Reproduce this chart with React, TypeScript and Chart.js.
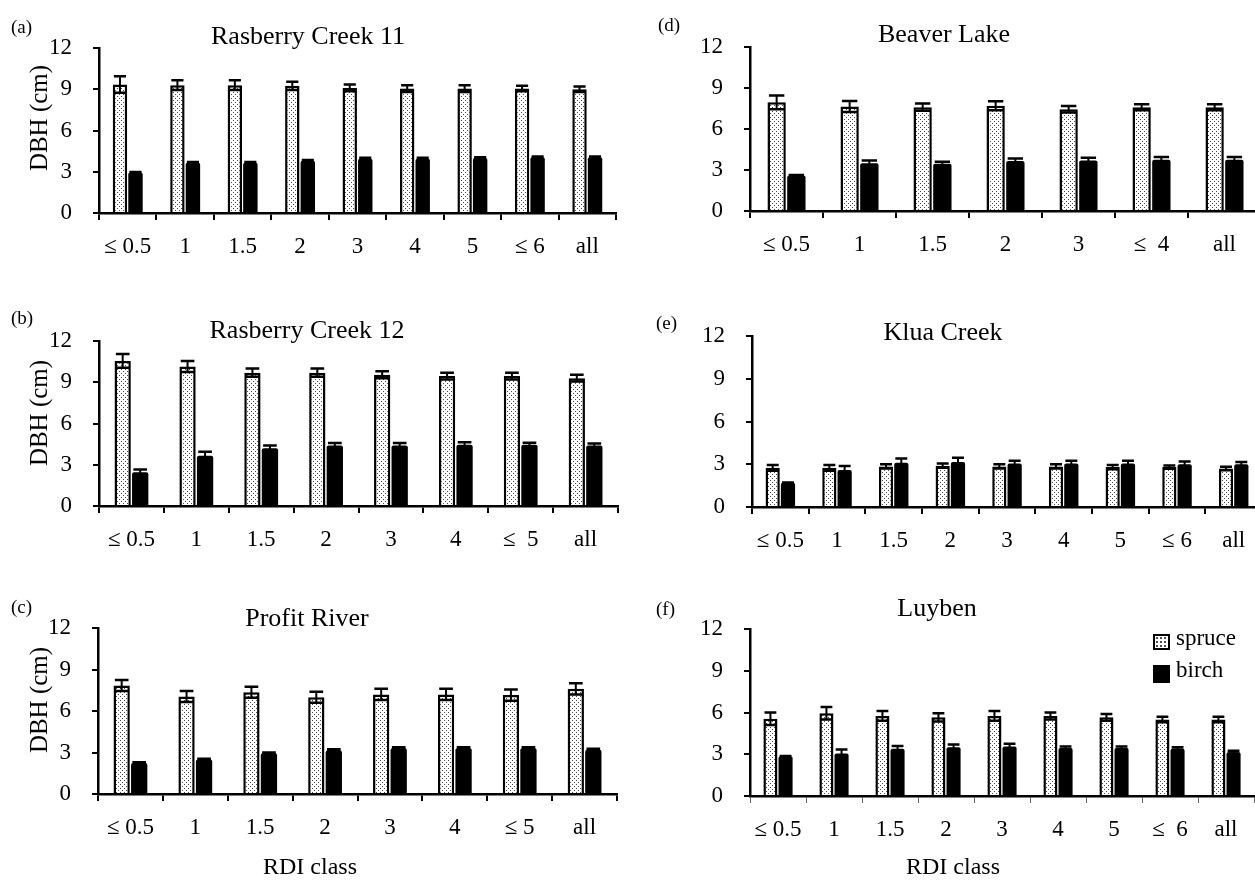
import React, { useEffect, useRef } from 'react';
import { Chart, registerables } from 'chart.js';

Chart.register(...registerables);

const FONT = "'Liberation Serif', 'Times New Roman', serif";

// ---------- data ----------
const labelsA = ['≤ 0.5', '1', '1.5', '2', '3', '4', '5', '≤ 6', 'all'];
const spruceA = [9.35, 9.3, 9.3, 9.25, 9.1, 9.05, 9.05, 9.05, 9.0];
const spruceErrA = [0.6, 0.35, 0.35, 0.3, 0.25, 0.25, 0.25, 0.2, 0.2];
const birchA = [2.95, 3.65, 3.65, 3.8, 3.95, 3.95, 4.0, 4.05, 4.05];
const birchErrA = [0.04, 0.06, 0.06, 0.06, 0.06, 0.06, 0.06, 0.06, 0.06];

const labelsB = ['≤ 0.5', '1', '1.5', '2', '3', '4', '≤  5', 'all'];
const spruceB = [10.55, 10.15, 9.7, 9.7, 9.55, 9.45, 9.45, 9.3];
const spruceErrB = [0.5, 0.4, 0.3, 0.3, 0.25, 0.25, 0.25, 0.25];
const birchB = [2.45, 3.65, 4.2, 4.4, 4.4, 4.45, 4.45, 4.4];
const birchErrB = [0.2, 0.3, 0.2, 0.18, 0.18, 0.18, 0.15, 0.15];

const labelsC = ['≤ 0.5', '1', '1.5', '2', '3', '4', '≤ 5', 'all'];
const spruceC = [7.85, 7.05, 7.35, 7.0, 7.2, 7.2, 7.15, 7.6];
const spruceErrC = [0.4, 0.4, 0.4, 0.4, 0.4, 0.4, 0.4, 0.4];
const birchC = [2.25, 2.5, 2.95, 3.15, 3.3, 3.3, 3.3, 3.2];
const birchErrC = [0.05, 0.05, 0.05, 0.08, 0.08, 0.08, 0.08, 0.08];

const labelsD = ['≤ 0.5', '1', '1.5', '2', '3', '≤  4', 'all'];
const spruceD = [7.95, 7.65, 7.6, 7.7, 7.45, 7.6, 7.6];
const spruceErrD = [0.5, 0.4, 0.27, 0.33, 0.24, 0.22, 0.22];
const birchD = [2.6, 3.5, 3.45, 3.65, 3.7, 3.75, 3.75];
const birchErrD = [0.04, 0.2, 0.15, 0.2, 0.2, 0.2, 0.2];

const labelsE = ['≤ 0.5', '1', '1.5', '2', '3', '4', '5', '≤ 6', 'all'];
const spruceE = [2.75, 2.75, 2.85, 2.9, 2.85, 2.85, 2.8, 2.8, 2.7];
const spruceErrE = [0.2, 0.2, 0.15, 0.15, 0.15, 0.15, 0.15, 0.12, 0.12];
const birchE = [1.7, 2.6, 3.1, 3.15, 3.05, 3.05, 3.05, 3.0, 3.0];
const birchErrE = [0.02, 0.28, 0.3, 0.3, 0.2, 0.2, 0.2, 0.2, 0.15];

const labelsF = ['≤ 0.5', '1', '1.5', '2', '3', '4', '5', '≤  6', 'all'];
const spruceF = [5.55, 5.95, 5.75, 5.65, 5.75, 5.75, 5.65, 5.5, 5.5];
const spruceErrF = [0.45, 0.45, 0.35, 0.3, 0.35, 0.25, 0.25, 0.2, 0.2];
const birchF = [2.85, 3.05, 3.4, 3.5, 3.55, 3.45, 3.45, 3.4, 3.15];
const birchErrF = [0.02, 0.3, 0.2, 0.2, 0.2, 0.1, 0.1, 0.1, 0.1];

const yTicks = [0, 3, 6, 9, 12];

// ---------- layout (plot-area rectangles in page pixels) ----------
type Spec = {
  labels: string[];
  spruce: number[];
  spruceErr: number[];
  birch: number[];
  birchErr: number[];
  L: number; T: number; R: number; B: number;
  thinX?: boolean;
};

const Y_AXIS_W = 70;
const X_AXIS_H = 60;
const PAD_TOP = 20;
const PAD_RIGHT = 4;
const TICK_SIZE = 23;

const panels: Spec[] = [
  { labels: labelsA, spruce: spruceA, spruceErr: spruceErrA, birch: birchA, birchErr: birchErrA, L: 99, T: 48, R: 616, B: 213 },
  { labels: labelsB, spruce: spruceB, spruceErr: spruceErrB, birch: birchB, birchErr: birchErrB, L: 99, T: 341, R: 618, B: 506 },
  { labels: labelsC, spruce: spruceC, spruceErr: spruceErrC, birch: birchC, birchErr: birchErrC, L: 98, T: 628, R: 617, B: 794 },
  { labels: labelsD, spruce: spruceD, spruceErr: spruceErrD, birch: birchD, birchErr: birchErrD, L: 750, T: 47, R: 1261, B: 211 },
  { labels: labelsE, spruce: spruceE, spruceErr: spruceErrE, birch: birchE, birchErr: birchErrE, L: 752, T: 336, R: 1262, B: 507 },
  { labels: labelsF, spruce: spruceF, spruceErr: spruceErrF, birch: birchF, birchErr: birchErrF, L: 750, T: 629, R: 1254, B: 796, thinX: true },
];

function makeDotPattern(): CanvasPattern | string {
  const c = document.createElement('canvas');
  c.width = 4;
  c.height = 4;
  const g = c.getContext('2d');
  if (!g) return '#fff';
  g.fillStyle = '#ffffff';
  g.fillRect(0, 0, 4, 4);
  g.fillStyle = '#4a4a4a';
  g.fillRect(0, 0, 1, 1);
  g.fillRect(2, 2, 1, 1);
  return g.createPattern(c, 'repeat') || '#fff';
}

const errorBarPlugin = {
  id: 'errorBars',
  afterDatasetsDraw(chart: any) {
    const ctx = chart.ctx;
    const y = chart.scales.y;
    chart.data.datasets.forEach((ds: any, di: number) => {
      const meta = chart.getDatasetMeta(di);
      const errs: number[] = ds.errors || [];
      meta.data.forEach((el: any, i: number) => {
        const v = ds.data[i];
        const e = errs[i];
        if (!e) return;
        const x = el.x;
        const w = el.width;
        const yTop = y.getPixelForValue(v + e);
        const yBot = y.getPixelForValue(v - e);
        const cap = w * 0.42;
        ctx.save();
        ctx.strokeStyle = '#000';
        ctx.lineWidth = 2;
        ctx.beginPath();
        ctx.moveTo(x, yTop);
        ctx.lineTo(x, yBot);
        ctx.stroke();
        ctx.lineWidth = 2.5;
        ctx.beginPath();
        ctx.moveTo(x - cap, yTop);
        ctx.lineTo(x + cap, yTop);
        ctx.moveTo(x - cap, yBot);
        ctx.lineTo(x + cap, yBot);
        ctx.stroke();
        ctx.restore();
      });
    });
  },
};

function BarPanel({ spec }: { spec: Spec }) {
  const ref = useRef<HTMLCanvasElement | null>(null);
  const left = spec.L - Y_AXIS_W;
  const top = spec.T - PAD_TOP;
  const width = spec.R + PAD_RIGHT - left;
  const height = spec.B + X_AXIS_H - top;

  useEffect(() => {
    const canvas = ref.current;
    if (!canvas) return;
    const pattern = makeDotPattern();
    const chart = new Chart(canvas, {
      type: 'bar',
      data: {
        labels: spec.labels,
        datasets: [
          {
            label: 'spruce',
            data: spec.spruce,
            errors: spec.spruceErr,
            backgroundColor: pattern,
            borderColor: '#000',
            borderWidth: 2.5,
            categoryPercentage: 0.54,
            barPercentage: 0.93,
          } as any,
          {
            label: 'birch',
            data: spec.birch,
            errors: spec.birchErr,
            backgroundColor: '#000',
            borderColor: '#000',
            borderWidth: 0,
            borderRadius: 2,
            categoryPercentage: 0.54,
            barPercentage: 0.93,
          } as any,
        ],
      },
      options: {
        animation: false,
        responsive: false,
        devicePixelRatio: 1,
        layout: { padding: { top: PAD_TOP, right: PAD_RIGHT, left: 0, bottom: 0 } },
        plugins: {
          legend: { display: false },
          tooltip: { enabled: false },
          title: { display: false },
        },
        scales: {
          x: {
            type: 'category',
            offset: true,
            grid: {
              offset: true,
              drawOnChartArea: false,
              drawTicks: true,
              tickLength: 7,
              color: spec.thinX ? '#666' : '#000',
              lineWidth: spec.thinX ? 1 : 2,
            },
            border: { display: true, color: '#000', width: 2.5 },
            ticks: {
              color: '#000',
              font: { family: FONT, size: TICK_SIZE },
              padding: 13,
              autoSkip: false,
              maxRotation: 0,
              minRotation: 0,
            },
            afterFit: (s: any) => {
              s.height = X_AXIS_H;
              s.paddingLeft = 0;
              s.paddingRight = 0;
            },
          },
          y: {
            min: yTicks[0],
            max: yTicks[yTicks.length - 1],
            grid: {
              drawOnChartArea: false,
              drawTicks: true,
              tickLength: 6,
              color: '#000',
              lineWidth: 2,
            },
            border: { display: true, color: '#000', width: 2.5 },
            ticks: {
              stepSize: 3,
              color: '#000',
              font: { family: FONT, size: TICK_SIZE },
              padding: 21,
            },
            afterFit: (s: any) => {
              s.width = Y_AXIS_W;
              s.paddingTop = 0;
              s.paddingBottom = 0;
            },
          },
        },
      } as any,
      plugins: [errorBarPlugin],
    });
    return () => chart.destroy();
  }, [spec]);

  return (
    <canvas
      ref={ref}
      width={width}
      height={height}
      style={{ position: 'absolute', left, top, width, height }}
    />
  );
}

function Txt({
  x, y, size, text, center,
}: { x: number; y: number; size: number; text: string; center?: boolean }) {
  return (
    <div
      style={{
        position: 'absolute',
        left: x,
        top: y - 0.84 * size,
        fontFamily: FONT,
        fontSize: size,
        lineHeight: `${size}px`,
        whiteSpace: 'pre',
        color: '#000',
        transform: center ? 'translateX(-50%)' : undefined,
      }}
    >
      {text}
    </div>
  );
}

function VTxt({ cx, cy, size, text }: { cx: number; cy: number; size: number; text: string }) {
  return (
    <div
      style={{
        position: 'absolute',
        left: cx,
        top: cy,
        fontFamily: FONT,
        fontSize: size,
        lineHeight: `${size}px`,
        whiteSpace: 'pre',
        color: '#000',
        transform: 'translate(-50%, -50%) rotate(-90deg)',
      }}
    >
      {text}
    </div>
  );
}

const panelLetters = ['(a)', '(b)', '(c)', '(d)', '(e)', '(f)'];
const siteTitles = ['Rasberry Creek 11', 'Rasberry Creek 12', 'Profit River', 'Beaver Lake', 'Klua Creek', 'Luyben'];
const yTitle = 'DBH (cm)';
const xTitle = 'RDI class';
const legendNames = ['spruce', 'birch'];

const letterPos = [
  [11, 33], [11, 324], [11, 613], [658, 31], [656, 329], [656, 615],
];
const titlePos = [
  [308, 45], [307, 339], [307, 627], [944, 43], [943, 341], [937, 617],
];
const yTitlePos = [
  [38, 118], [38, 413], [38, 700],
];
const xTitlePos = [
  [310, 874], [953, 874],
];

export default function App() {
  return (
    <div
      style={{
        position: 'absolute',
        left: 0,
        top: 0,
        width: 1255,
        height: 882,
        overflow: 'hidden',
        background: '#fff',
      }}
    >
      {panels.map((p, i) => (
        <BarPanel key={i} spec={p} />
      ))}
      {panelLetters.map((t, i) => (
        <Txt key={'l' + i} x={letterPos[i][0]} y={letterPos[i][1]} size={19} text={t} />
      ))}
      {siteTitles.map((t, i) => (
        <Txt key={'t' + i} x={titlePos[i][0]} y={titlePos[i][1]} size={26} text={t} center />
      ))}
      {yTitlePos.map((p, i) => (
        <VTxt key={'y' + i} cx={p[0]} cy={p[1]} size={25} text={yTitle} />
      ))}
      {xTitlePos.map((p, i) => (
        <Txt key={'x' + i} x={p[0]} y={p[1]} size={24} text={xTitle} center />
      ))}
      {/* legend */}
      <div
        style={{
          position: 'absolute',
          left: 1153,
          top: 634,
          width: 17,
          height: 16,
          boxSizing: 'border-box',
          border: '2.5px solid #000',
          backgroundColor: '#fff',
          backgroundImage: 'radial-gradient(#4a4a4a 0.7px, transparent 0.9px)',
          backgroundSize: '4px 4px',
        }}
      />
      <div
        style={{
          position: 'absolute',
          left: 1153,
          top: 665,
          width: 17,
          height: 18,
          background: '#000',
        }}
      />
      <Txt x={1176} y={645} size={23} text={legendNames[0]} />
      <Txt x={1176} y={677} size={23} text={legendNames[1]} />
    </div>
  );
}
